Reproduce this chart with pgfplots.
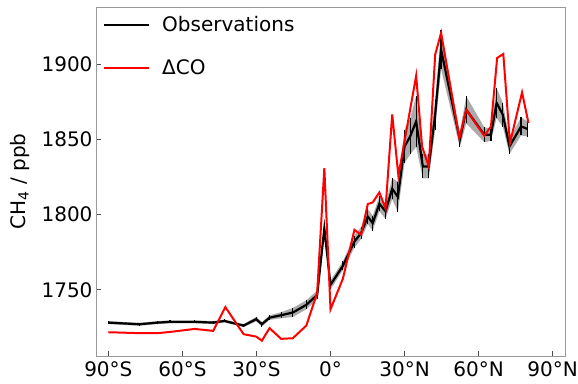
\documentclass[border=0pt]{standalone}
\usepackage{fontspec}
\setmainfont{DejaVu Sans}
\usepackage{pgfplots}
\usepackage{pgfplotstable}
\pgfplotsset{compat=1.18}
\usepgfplotslibrary{fillbetween}

\pgfplotstableread{
lat obs err
-90 1728.2 1
-77.5 1727.1 1
-70 1728.2 1
-65 1728.7 1
-55 1728.7 1
-47.5 1728.2 1
-43 1729.3 1
-35.2 1726.2 1
-30.1 1730.5 1.5
-27.8 1727.1 1.5
-24.7 1731.5 1.5
-20 1733.1 2
-15.3 1734.9 3
-9.8 1740.0 3
-5.4 1746.6 3
-2.5 1790.7 3
0 1753.3 3
5 1765.9 3
9.7 1782.1 4
12.4 1787.7 4
15.1 1798.7 5
17.1 1794.3 5
19.8 1807.2 5
22.3 1802.2 5
25 1817.2 7
27.3 1811.8 10
30 1845.3 11
32.3 1852.0 12
34.7 1862.0 17
37.4 1832.0 8
39.8 1832.0 8
42.4 1866.4 10
44.8 1909.6 13
52.4 1849.8 5
55 1869.7 9
62.3 1853.1 5
65 1853.1 4
67.3 1874.2 10
69.8 1866.4 8
72.5 1845.3 5
77.2 1858.6 6
79.9 1856.9 5
}\obs

\pgfplotstableread{
lat co
-90 1721.8
-77.5 1721.2
-70 1721.2
-65 1722.0
-55 1724.0
-47.5 1722.7
-42.6 1738.5
-35.2 1720.5
-30.1 1718.9
-27.8 1716.2
-24.7 1724.5
-20 1717.4
-15.3 1717.8
-9.8 1726.2
-5.4 1748.0
-2.5 1830.9
0 1737.0
5 1757.3
9.7 1789.9
12.4 1786.6
15.1 1807.0
17.1 1808.1
19.8 1814.7
22.3 1804.0
25 1866.6
27.5 1825.8
30 1848.9
32.3 1870.1
34.7 1892.3
37.1 1845.3
39.8 1832.0
42.4 1906.3
44.8 1920.8
52.2 1850.9
55 1869.7
62.3 1852.4
65 1858.6
67.5 1904.1
70 1906.8
72.7 1847.6
77.6 1881.2
80.2 1860.9
}\co

\begin{document}
\begin{tikzpicture}
\begin{axis}[
  scale only axis, width=469pt, height=349pt,
  xmin=-95, xmax=95, ymin=1706, ymax=1938,
  xtick={-90,-60,-30,0,30,60,90},
  xticklabels={90°S,60°S,30°S,0°,30°N,60°N,90°N},
  ytick={1750,1800,1850,1900},
  /pgf/number format/assume math mode=true,
  /pgf/number format/set thousands separator={},
  tick align=inside, tick pos=left, major tick length=5pt,
  tick style={black!70, line width=0.8pt},
  axis line style={black!40, line width=0.9pt},
  tick label style={font=\fontsize{20}{24}\selectfont},
  xticklabel style={yshift=-2pt},
  ylabel={CH\textsubscript{4} / ppb},
  every axis y label/.style={at={(rel axis cs:0,0.5)}, xshift=-76pt, rotate=90, anchor=center, font=\fontsize{20}{24}\selectfont},
  legend style={draw=none, fill=none, at={(rel axis cs:0,1)}, anchor=north west,
    xshift=4pt, yshift=-5pt, font=\fontsize{20}{24}\selectfont, row sep=23pt, column sep=10pt},
  legend cell align=left,
  legend image code/.code={\draw[#1, line width=2pt] (0pt,0pt) -- (45pt,0pt);},
]
\addplot[name path=U, draw=none, forget plot] table[x=lat, y expr=\thisrow{obs}+\thisrow{err}]{\obs};
\addplot[name path=L, draw=none, forget plot] table[x=lat, y expr=\thisrow{obs}-\thisrow{err}]{\obs};
\addplot[black!33, forget plot] fill between[of=U and L];
\addplot[black, line width=2.2pt, mark=none] table[x=lat, y=obs]{\obs};
\addlegendentry{Observations}
\addplot[forget plot, draw=none, mark=none,
  error bars/.cd, y dir=both, y explicit, error mark=none,
  error bar style={line width=1.2pt, draw=black}] table[x=lat, y=obs, y error=err]{\obs};
\addplot[red, line width=2pt, mark=none] table[x=lat, y=co]{\co};
\addlegendentry{ΔCO}
\coordinate (ll) at (rel axis cs:0,0);
\coordinate (ur) at (rel axis cs:1,1);
\end{axis}
\pgfresetboundingbox
\path ([xshift=-96pt,yshift=-27pt]ll) rectangle ([xshift=13pt,yshift=7pt]ur);
\end{tikzpicture}
\end{document}
